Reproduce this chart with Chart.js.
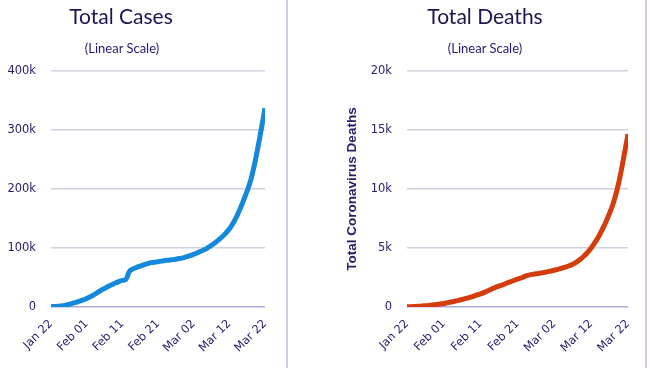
<!DOCTYPE html>
<html>
<head>
<meta charset="utf-8">
<script src="https://cdn.jsdelivr.net/npm/chart.js@4"></script>
<style>
  body { margin: 0; background: #fff; }
  #wrap { position: relative; width: 650px; height: 368px; overflow: hidden; background: #fff; }
  canvas { position: absolute; top: 0; }
  .title { position: absolute; width: 240px; text-align: center; font-family: Lato, "Liberation Sans", sans-serif; color: #1c1650; font-size: 21px; top: 3px; }
  .sub { position: absolute; width: 240px; text-align: center; font-family: Lato, "Liberation Sans", sans-serif; color: #2a1870; font-size: 13px; top: 40px; }
  .divider { position: absolute; top: 0; width: 2px; height: 368px; background: #cdcde0; }
</style>
</head>
<body>
<div id="wrap">
  <canvas id="cases" width="286" height="368" style="left:0"></canvas>
  <canvas id="deaths" width="355" height="368" style="left:289px"></canvas>
  <div class="title" style="left:1px">Total Cases</div>
  <div class="sub" style="left:2px">(Linear Scale)</div>
  <div class="title" style="left:365px">Total Deaths</div>
  <div class="sub" style="left:365px">(Linear Scale)</div>
  <div class="divider" style="left:286px"></div>
  <div class="divider" style="left:645px"></div>
</div>
<script>
// one value per day, Jan 22 .. Mar 22
const tickLabels = ["Jan 22", "Feb 01", "Feb 11", "Feb 21", "Mar 02", "Mar 12", "Mar 22"];

const totalCases = [
  580, 845, 1317, 2015, 2800, 4579, 6061, 7816, 9821, 11948,
  14551, 17389, 20628, 24553, 28276, 31439, 34876, 37552, 40553, 43099,
  45134, 46997, 60327, 64543, 67103, 69265, 71332, 73327, 75191, 75723,
  76719, 77804, 78812, 79339, 80132, 80995, 82101, 83365, 85203, 87024,
  89300, 91800, 94400, 97300, 100800, 104700, 109000, 113800, 119000, 125200,
  132300, 141500, 152800, 166000, 181000, 197000, 215000, 240000, 270000, 303000,
  337000
];

const totalDeaths = [
  17, 25, 41, 56, 80, 106, 132, 170, 213, 259,
  304, 362, 426, 492, 565, 638, 724, 813, 910, 1018,
  1115, 1240, 1383, 1526, 1669, 1775, 1873, 2009, 2126, 2247,
  2360, 2460, 2600, 2699, 2763, 2810, 2858, 2923, 2977, 3050,
  3117, 3202, 3285, 3387, 3494, 3620, 3800, 4020, 4296, 4620,
  5000, 5450, 5950, 6550, 7200, 7950, 8800, 9900, 11300, 12950,
  14651
];

function points(values) {
  return values.map((v, i) => ({ x: i, y: v }));
}

const tickColor = "#2a1a6a";
const tickFont = { family: "DejaVu Sans", size: 11.5 };

function makeChart(id, values, color, maxY, step, opts) {
  const ctx = document.getElementById(id).getContext("2d");
  return new Chart(ctx, {
    type: "line",
    data: {
      datasets: [
        {
          data: points(values),
          borderColor: color,
          borderWidth: 5,
          pointRadius: 0,
          cubicInterpolationMode: "monotone",
          fill: false,
        },
      ],
    },
    options: {
      responsive: false,
      animation: false,
      devicePixelRatio: 1,
      layout: { padding: opts.padding },
      plugins: { legend: { display: false }, tooltip: { enabled: false } },
      scales: {
        x: {
          type: "linear",
          min: 0,
          max: 60,
          afterFit: (s) => { s.height = 61; },
          grid: { display: false },
          border: { display: false },
          ticks: {
            stepSize: 10,
            autoSkip: false,
            minRotation: 45,
            maxRotation: 45,
            padding: 2,
            color: tickColor,
            font: tickFont,
            callback: (v) => tickLabels[v / 10],
          },
        },
        y: {
          min: 0,
          max: maxY,
          afterFit: (s) => { s.width = opts.yWidth; },
          border: { display: false },
          grid: {
            drawTicks: false,
            lineWidth: 1.5,
            color: (c) => (c.index === 0 ? "#a9acd8" : "#d0d0de"),
          },
          ticks: {
            stepSize: step,
            padding: 15,
            color: tickColor,
            font: tickFont,
            callback: (v) => (v === 0 ? "0" : v / 1000 + "k"),
          },
          title: opts.yTitle
            ? {
                display: true,
                text: opts.yTitle,
                color: tickColor,
                padding: 0,
                font: { family: "Liberation Sans", size: 13.5, weight: "bold" },
              }
            : { display: false },
        },
      },
    },
  });
}

makeChart("cases", totalCases, "#1488da", 400000, 100000, {
  padding: { top: 71, right: 21, left: 0, bottom: 0 },
  yWidth: 51,
});

makeChart("deaths", totalDeaths, "#d43c0c", 20000, 5000, {
  padding: { top: 71, right: 16, left: 55, bottom: 0 },
  yWidth: 63,
  yTitle: "Total Coronavirus Deaths",
});
</script>
</body>
</html>
